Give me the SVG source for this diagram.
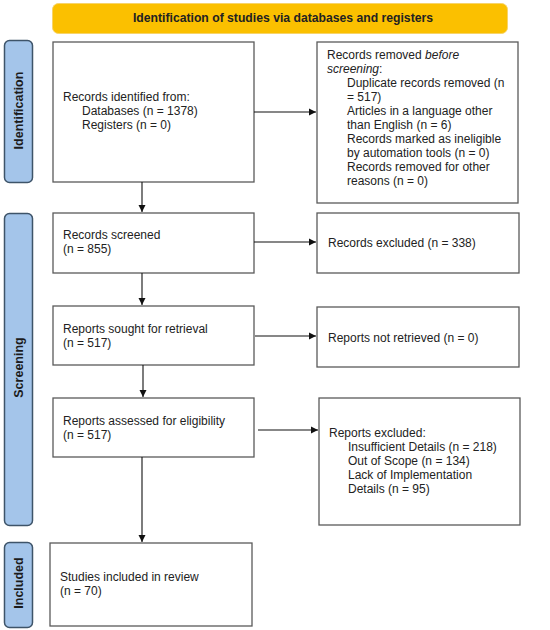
<svg xmlns="http://www.w3.org/2000/svg" width="550" height="630" viewBox="0 0 550 630">
<style>
.box{fill:#fff;stroke:#5a5a5a;stroke-width:1.3}
.side{fill:#a4c5ea;stroke:#3e5469;stroke-width:1.5}
.t{font-family:"Liberation Sans",Arial,sans-serif;font-size:12px;fill:#222}
.sl{font-family:"Liberation Sans",Arial,sans-serif;font-size:12.5px;font-weight:bold;fill:#1c1c1c}
.c{stroke:#111;stroke-width:1.1;fill:none;marker-end:url(#ah)}
</style>
<defs>
<marker id="ah" markerWidth="8" markerHeight="8" refX="7" refY="4" orient="auto" markerUnits="userSpaceOnUse">
<path d="M0,0.5 L7,4 L0,7.5 Z" fill="#111"/>
</marker>
</defs>
<rect width="550" height="630" fill="#fff"/>
<g id="banner">
<rect x="52.5" y="3.5" width="455" height="30" rx="6" fill="#fbc000" stroke="#f7d46a" stroke-width="1"/>
<text x="283" y="22" text-anchor="middle" class="t" style="font-weight:bold;font-size:12.2px">Identification of studies via databases and registers</text>
</g>
<g id="side-identification">
<rect x="4.5" y="40.5" width="28" height="142" rx="5" class="side"/>
<text class="sl" transform="translate(22.5,110.5) rotate(-90)" text-anchor="middle">Identification</text>
</g>
<g id="side-screening">
<rect x="4.5" y="213.5" width="28" height="312" rx="5" class="side"/>
<text class="sl" transform="translate(22.5,367.5) rotate(-90)" text-anchor="middle">Screening</text>
</g>
<g id="side-included">
<rect x="4.5" y="542.5" width="28" height="85" rx="5" class="side"/>
<text class="sl" transform="translate(22.5,583) rotate(-90)" text-anchor="middle">Included</text>
</g>
<g id="records-identified">
<rect x="53" y="42" width="201" height="140" class="box"/>
<text class="t" x="63" y="101">Records identified from:</text>
<text class="t" x="82" y="115">Databases (n = 1378)</text>
<text class="t" x="82" y="129">Registers (n = 0)</text>
</g>
<g id="records-removed">
<rect x="317" y="42" width="201" height="161" class="box"/>
<text class="t" x="327" y="59">Records removed <tspan font-style="italic">before</tspan></text>
<text class="t" x="327" y="73"><tspan font-style="italic">screening</tspan>:</text>
<text class="t" x="347" y="87">Duplicate records removed (n</text>
<text class="t" x="347" y="101">= 517)</text>
<text class="t" x="347" y="115">Articles in a language other</text>
<text class="t" x="347" y="129">than English (n = 6)</text>
<text class="t" x="347" y="143">Records marked as ineligible</text>
<text class="t" x="347" y="157">by automation tools (n = 0)</text>
<text class="t" x="347" y="171">Records removed for other</text>
<text class="t" x="347" y="185">reasons (n = 0)</text>
</g>
<g id="records-screened">
<rect x="53" y="213" width="201" height="60" class="box"/>
<text class="t" x="63" y="239">Records screened</text>
<text class="t" x="63" y="253">(n = 855)</text>
</g>
<g id="records-excluded">
<rect x="317" y="213" width="202" height="60" class="box"/>
<text class="t" x="328" y="247">Records excluded (n = 338)</text>
</g>
<g id="reports-sought">
<rect x="53" y="306" width="201" height="59" class="box"/>
<text class="t" x="63" y="333">Reports sought for retrieval</text>
<text class="t" x="63" y="347">(n = 517)</text>
</g>
<g id="reports-not-retrieved">
<rect x="317" y="307" width="202" height="60" class="box"/>
<text class="t" x="328" y="342">Reports not retrieved (n = 0)</text>
</g>
<g id="reports-assessed">
<rect x="53" y="398" width="201" height="59" class="box"/>
<text class="t" x="63" y="425">Reports assessed for eligibility</text>
<text class="t" x="63" y="439">(n = 517)</text>
</g>
<g id="reports-excluded">
<rect x="319" y="398" width="201" height="127" class="box"/>
<text class="t" x="329" y="437">Reports excluded:</text>
<text class="t" x="348" y="451">Insufficient Details (n = 218)</text>
<text class="t" x="348" y="465">Out of Scope (n = 134)</text>
<text class="t" x="348" y="479">Lack of Implementation</text>
<text class="t" x="348" y="493">Details (n = 95)</text>
</g>
<g id="studies-included">
<rect x="50" y="543" width="202" height="83" class="box"/>
<text class="t" x="60" y="581">Studies included in review</text>
<text class="t" x="60" y="595">(n = 70)</text>
</g>
<g id="connectors">
<line x1="254" y1="112" x2="316" y2="112" class="c"/>
<line x1="142" y1="182" x2="142" y2="212" class="c"/>
<line x1="254" y1="242" x2="316" y2="242" class="c"/>
<line x1="142" y1="273" x2="142" y2="305" class="c"/>
<line x1="255" y1="336" x2="316" y2="336" class="c"/>
<line x1="143" y1="365" x2="143" y2="397" class="c"/>
<line x1="258" y1="430" x2="318" y2="430" class="c"/>
<line x1="142" y1="457" x2="142" y2="542" class="c"/>
</g>
</svg>
